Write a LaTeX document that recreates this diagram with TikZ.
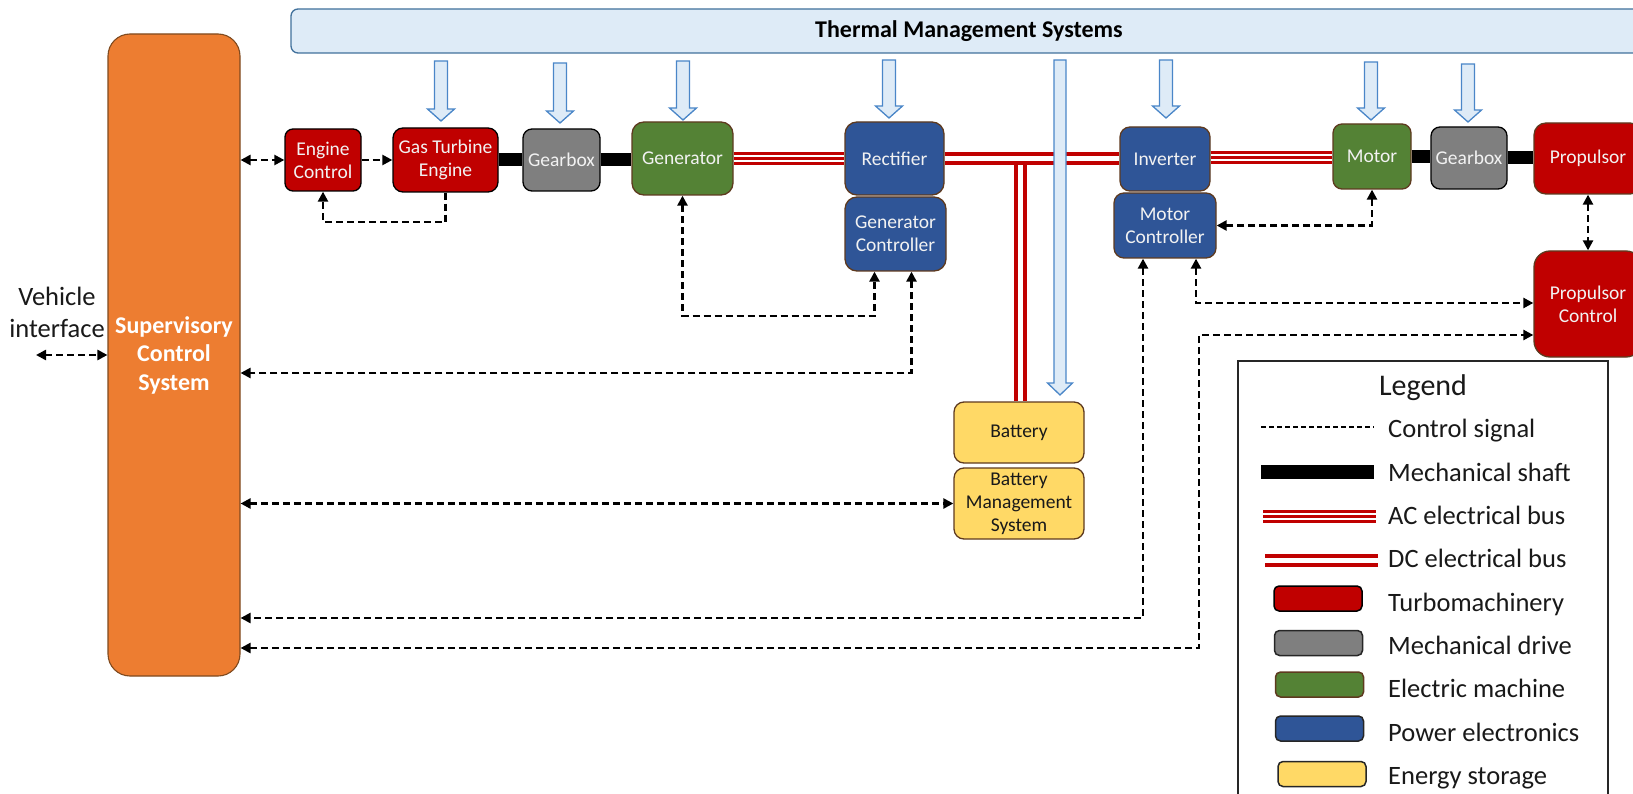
\documentclass[tikz,border=0pt]{standalone}
\usepackage{fontspec}
\setmainfont{Carlito}
\usetikzlibrary{arrows.meta}
\definecolor{turbo}{HTML}{C00000}
\definecolor{grayb}{HTML}{7F7F7F}
\definecolor{greenb}{HTML}{548235}
\definecolor{blueb}{HTML}{2F5597}
\definecolor{yelb}{HTML}{FFD966}
\definecolor{orng}{HTML}{ED7D31}
\definecolor{brn}{HTML}{5E3A1F}
\definecolor{orbrn}{HTML}{7F4A1F}
\definecolor{thfill}{HTML}{DEEBF7}
\definecolor{thdraw}{HTML}{4A86C8}
\definecolor{thbar}{HTML}{41719C}
\definecolor{busred}{HTML}{C00000}
\newcommand{\tharr}[3]{%
  \draw[tharrow] ({#1-6.5},#2) -- ({#1+6.5},#2) -- ({#1+6.5},{#3-12}) -- ({#1+13.5},{#3-12}) -- (#1,#3) -- ({#1-13.5},{#3-12}) -- ({#1-6.5},{#3-12}) -- cycle;}
\begin{document}
\begin{tikzpicture}[x=1pt,y=-1pt,
  >={Triangle[length=10pt,width=10pt]},
  box/.style={draw, line width=1.3pt, inner sep=0pt, align=center, text=white!95!black,
    font=\fontsize{19.5pt}{23pt}\selectfont},
  turbobox/.style={box, fill=turbo, draw=black},
  drivebox/.style={box, fill=grayb, draw=black},
  machbox/.style={box, fill=greenb, draw=brn},
  pebox/.style={box, fill=blueb, draw=brn},
  storbox/.style={box, fill=yelb, draw=brn, text=black!90},
  ctl/.style={line width=2.4pt, dash pattern=on 7pt off 4pt},
  shaft/.style={line width=13pt, draw=black},
  acbus/.style={draw=busred, line width=13pt, postaction={draw=white, line width=7pt}, postaction={draw=busred, line width=3pt}},
  dcbus/.style={draw=busred, double=white, double distance=5pt, line width=4pt},
  tharrow/.style={draw=thdraw, fill=thfill, line width=1.3pt, line join=miter},
  legtext/.style={anchor=base west, inner sep=0pt, font=\fontsize{26.5pt}{32pt}\selectfont, text=black!90},
  swatch/.style={line width=1.5pt, rounded corners=5pt, minimum width=88pt, minimum height=25pt, inner sep=0pt}
]
\useasboundingbox (0,0) rectangle (1633,794);
\fill[white] (0,0) rectangle (1633,794);
\clip (0,0) rectangle (1633,794);

% thermal bar
\node[draw=thbar, fill=thfill, line width=1.3pt, rounded corners=7pt, minimum width=1356pt, minimum height=44pt, inner sep=0pt,
  font=\bfseries\fontsize{24pt}{28pt}\selectfont, text=black] (tms) at (969,31) {Thermal Management Systems};

% supervisory
\node[box, fill=orng, draw=orbrn, line width=1.1pt, rounded corners=22pt, minimum width=132pt, minimum height=642pt,
  font=\bfseries\fontsize{24pt}{28.5pt}\selectfont, text=white] (sup) at (174,355) {Supervisory\\Control\\System};
\node[inner sep=0pt, align=center, font=\fontsize{26.5pt}{32pt}\selectfont, text=black!90] (vi) at (57,312) {Vehicle\\interface};

% components
\node[turbobox, rounded corners=8pt, minimum width=76pt, minimum height=62pt] (ec) at (323,160) {Engine\\Control};
\node[turbobox, rounded corners=10pt, minimum width=105pt, minimum height=64pt] (gte) at (445.5,160) {Gas Turbine\\Engine};
\node[drivebox, rounded corners=9pt, minimum width=77pt, minimum height=62pt] (gb1) at (561.5,160) {Gearbox};
\node[machbox, rounded corners=12pt, minimum width=101pt, minimum height=73pt] (gen) at (682.5,158.5) {Generator};
\node[pebox, rounded corners=12pt, minimum width=99pt, minimum height=73pt] (rect) at (894.5,158.5) {Rectifier};
\node[pebox, rounded corners=12pt, minimum width=101pt, minimum height=74pt] (gc) at (895.5,234) {Generator\\Controller};
\node[pebox, rounded corners=10pt, minimum width=90pt, minimum height=64pt] (inv) at (1165,159) {Inverter};
\node[pebox, rounded corners=10pt, minimum width=102pt, minimum height=65pt] (mc) at (1165,225.5) {Motor\\Controller};
\node[machbox, rounded corners=9pt, minimum width=78pt, minimum height=65pt] (mot) at (1372,156.5) {Motor};
\node[drivebox, rounded corners=9pt, minimum width=76pt, minimum height=62pt] (gb2) at (1469,158) {Gearbox};
\node[turbobox, draw=brn, rounded corners=12pt, minimum width=108pt, minimum height=71pt] (prop) at (1588,158.5) {Propulsor};
\node[turbobox, draw=brn, rounded corners=16pt, minimum width=108pt, minimum height=106pt] (pc) at (1588,304) {Propulsor\\Control};
\node[storbox, rounded corners=10pt, minimum width=130pt, minimum height=61pt] (bat) at (1019,432.5) {Battery};
\node[storbox, rounded corners=10pt, minimum width=130pt, minimum height=71pt] (bms) at (1019,503.5) {Battery\\Management\\System};

% buses and shafts
\draw[dcbus] ([xshift=1.5pt]bat.north) -- ([xshift=1.5pt]bat.north |- 0,163);
\draw[shaft] (gte.east) -- (gb1.west);
\draw[shaft] (gb1.east) -- (gb1.east -| gen.west);
\draw[shaft] (mot.east) -- (mot.east -| gb2.west);
\draw[shaft] (gb2.east) -- (gb2.east -| prop.west);
\draw[acbus] (gen.east) -- (rect.west);
\draw[dcbus] (rect.east) -- (rect.east -| inv.west);
\draw[acbus] ([yshift=1.5pt]inv.east) -- ([yshift=1.5pt]inv.east -| mot.west);

% thermal arrows
\tharr{441}{61}{121}
\tharr{560}{63}{123}
\tharr{683}{61}{120}
\tharr{889}{60}{118}
\tharr{1166}{60}{118}
\tharr{1371}{62}{120}
\tharr{1468}{64}{122}
\draw[tharrow] (1054,60) -- (1066,60) -- (1066,383) -- (1072.5,383) -- (1060,395) -- (1047.5,383) -- (1054,383) -- cycle;

% control signals
\coordinate (vif) at (36,355);
\draw[ctl,<->] (vif) -- (sup.west |- vif);
\draw[ctl,<->] (sup.east |- ec.west) -- (ec.west);
\draw[ctl,->] (ec.east) -- (gte.west);
\draw[ctl,->] (gte.south) -- (gte.south |- 0,222) -| (ec.south);
\draw[ctl,<->] (gen.south) -- (gen.south |- 0,316) -| ([xshift=-21pt]gc.south);
\draw[ctl,<->] ([xshift=16pt]gc.south) |- (sup.east |- 0,373);
\draw[ctl,<->] (sup.east |- bms.west) -- (bms.west);
\draw[ctl,<->] (mot.south) |- (mc.east);
\draw[ctl,<->] ([xshift=31pt]mc.south) |- (pc.west |- 0,303);
\draw[ctl,<->] ([xshift=-22pt]mc.south) |- (sup.east |- 0,618);
\coordinate (c1) at (1199,648);
\coordinate (c2) at (1199,335);
\draw[ctl,<->] (sup.east |- c1) -- (c1) -- (c2) -- (pc.west |- c2);
\draw[ctl,<->] (prop.south) -- (pc.north);

% legend
\node[draw=black!85, line width=1.5pt, minimum width=370pt, minimum height=470pt, anchor=north west, inner sep=0pt] (leg) at (1237,360) {};
\node[inner sep=0pt, anchor=base, font=\fontsize{30pt}{36pt}\selectfont, text=black!90] (legt) at (1423,395) {Legend};
\coordinate (l1a) at (1261,427); \coordinate (l1b) at (1374,427);
\draw[line width=1.8pt, dash pattern=on 5pt off 3pt] (l1a) -- (l1b);
\node[legtext] (t1) at (1388,437) {Control signal};
\coordinate (l2a) at (1261,472); \coordinate (l2b) at (1374,472);
\draw[shaft, line width=14pt] (l2a) -- (l2b);
\node[legtext] (t2) at (1388,481) {Mechanical shaft};
\coordinate (l3a) at (1263,516); \coordinate (l3b) at (1376,516);
\draw[acbus] (l3a) -- (l3b);
\node[legtext] (t3) at (1388,524) {AC electrical bus};
\coordinate (l4a) at (1265,560); \coordinate (l4b) at (1378,560);
\draw[dcbus] (l4a) -- (l4b);
\node[legtext] (t4) at (1388,567) {DC electrical bus};
\node[swatch, draw=black, fill=turbo] (s5) at (1318,598.5) {};
\node[legtext] (t5) at (1388,611) {Turbomachinery};
\node[swatch, draw=black!85, fill=grayb] (s6) at (1318.5,643) {};
\node[legtext] (t6) at (1388,654) {Mechanical drive};
\node[swatch, draw=brn, fill=greenb] (s7) at (1319.5,684.5) {};
\node[legtext] (t7) at (1388,697) {Electric machine};
\node[swatch, draw=black!85, fill=blueb] (s8) at (1319.5,728.5) {};
\node[legtext] (t8) at (1388,741) {Power electronics};
\node[swatch, draw=black!85, fill=yelb] (s9) at (1322,774) {};
\node[legtext] (t9) at (1388,784) {Energy storage};
\end{tikzpicture}
\end{document}
